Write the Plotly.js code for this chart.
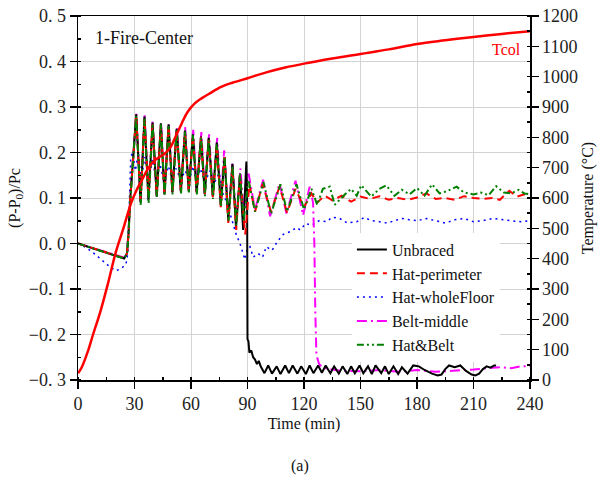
<!DOCTYPE html>
<html>
<head>
<meta charset="utf-8">
<script src="https://cdn.plot.ly/plotly-3.0.1.min.js"></script>
<style>html,body{margin:0;padding:0;background:#fff;}#chart{width:603px;height:480px;}</style>
</head>
<body>
<div id="chart"></div>
<script>
// ---- data (time in min, value) ----
const seriesNames = ["Unbraced", "Hat-perimeter", "Hat-wholeFloor", "Belt-middle", "Hat&Belt"];

const unbraced = [[0,0],[24.5,-0.033],[26,-0.022],[26.8,0.02],[27.7,0.095],[29.1,0.17],[30.9,0.284],[33.2,0.09],[35.3,0.279],[37.4,0.095],[39.6,0.266],[41.8,0.103],[44.0,0.264],[45.9,0.108],[48.1,0.262],[50.1,0.112],[52.4,0.252],[54.6,0.114],[56.8,0.248],[58.8,0.115],[61.0,0.24],[63.0,0.112],[65.3,0.235],[67.3,0.108],[69.4,0.232],[71.6,0.104],[73.7,0.222],[75.8,0.085],[77.8,0.19],[79.8,0.05],[82.0,0.175],[83.9,0.035],[86.0,0.15],[87.7,0.03],[89.4,0.18],[89.8,0.1],[90.0,-0.21],[90.5,-0.215],[91,-0.24],[92,-0.235],[93,-0.25],[94,-0.255],[95,-0.265],[96,-0.258],[97,-0.27],[99,-0.285],[101,-0.268],[103,-0.286],[105.5,-0.27],[107.5,-0.287],[110,-0.268],[112,-0.285],[114,-0.268],[116.5,-0.286],[118.5,-0.27],[121,-0.287],[123,-0.268],[125,-0.285],[127.5,-0.268],[129.5,-0.284],[131.5,-0.268],[134,-0.285],[136,-0.27],[138.5,-0.286],[140.5,-0.27],[143,-0.287],[145,-0.27],[147,-0.285],[149.5,-0.268],[151.5,-0.285],[154,-0.27],[156,-0.287],[158,-0.268],[161,-0.285],[163,-0.27],[165,-0.287],[167.5,-0.27],[170,-0.287],[172,-0.272],[175,-0.286],[178,-0.268],[181,-0.27],[184,-0.278],[188,-0.286],[191,-0.29],[193,-0.288],[195,-0.276],[197,-0.268],[200,-0.272],[203,-0.268],[206,-0.28],[209,-0.288],[211,-0.29],[213,-0.286],[215,-0.276],[217,-0.27],[219,-0.273],[221,-0.268],[222,-0.268]];

const hatPerimeter = [[0,0],[24.5,-0.032],[26,-0.022],[26.8,0.02],[27.7,0.095],[29.1,0.17],[30.9,0.282],[33.2,0.095],[35.3,0.276],[37.4,0.1],[39.6,0.262],[41.8,0.106],[44.0,0.26],[45.9,0.11],[48.1,0.258],[50.1,0.113],[52.4,0.25],[54.6,0.115],[56.8,0.245],[58.8,0.116],[61.0,0.238],[63.0,0.112],[65.3,0.234],[67.3,0.108],[69.4,0.228],[71.6,0.1],[73.7,0.215],[75.8,0.08],[77.8,0.19],[79.8,0.045],[82.0,0.165],[84.0,0.03],[86.0,0.15],[88.8,0.02],[91.0,0.13],[94.0,0.07],[98.0,0.13],[102.5,0.07],[107.0,0.125],[111.0,0.068],[115.5,0.12],[120.0,0.08],[124.0,0.11],[127.0,0.09],[131.0,0.105],[135.0,0.095],[140.0,0.105],[145.0,0.092],[150.0,0.103],[155.0,0.098],[160.0,0.104],[165.0,0.096],[170.0,0.1],[175.0,0.096],[180.0,0.101],[185.0,0.11],[190.0,0.098],[195.0,0.1],[200.0,0.096],[205.0,0.104],[210.0,0.1],[215.0,0.098],[220.0,0.1],[224.0,0.096],[229.0,0.116],[233.0,0.103],[237.0,0.108],[240.0,0.105]];

const hatWholeFloor = [[0,0],[4,-0.008],[8,-0.02],[12,-0.035],[16,-0.048],[20,-0.06],[23,-0.055],[25.5,-0.045],[26.5,-0.02],[27,0.05],[27.5,0.12],[28,0.19],[29,0.2],[30.5,0.16],[32,0.2],[33.5,0.14],[35.5,0.19],[37.5,0.14],[39.5,0.185],[41.5,0.14],[43.5,0.175],[45.5,0.14],[48,0.17],[50,0.14],[52,0.165],[54.5,0.14],[57,0.16],[59,0.135],[61,0.17],[63,0.135],[65,0.165],[67.5,0.135],[70,0.16],[72,0.13],[75,0.155],[77,0.11],[79,0.09],[82,0.045],[84,0.02],[86,0.0],[88.6,-0.035],[90,-0.01],[91.3,-0.007],[93,-0.03],[95.7,-0.022],[98,-0.03],[100,-0.007],[103,-0.015],[106,0.005],[109,0.02],[112.5,0.026],[116,0.035],[118,0.03],[121,0.044],[124,0.04],[128,0.05],[132,0.048],[135,0.058],[139,0.055],[143,0.045],[148,0.048],[152,0.057],[156,0.05],[160,0.048],[164,0.045],[168,0.05],[172,0.055],[176,0.052],[180,0.05],[185,0.055],[190,0.05],[195,0.045],[200,0.052],[205,0.055],[210,0.048],[215,0.05],[220,0.055],[225,0.052],[230,0.05],[235,0.048],[240,0.05]];

const beltMiddle = [[0,0],[24.5,-0.031],[26,-0.02],[26.8,0.025],[27.7,0.1],[29.1,0.175],[31.0,0.286],[33.2,0.092],[35.4,0.282],[37.4,0.098],[39.6,0.268],[41.8,0.105],[44.1,0.266],[45.9,0.11],[48.2,0.264],[50.1,0.113],[52.5,0.256],[54.6,0.116],[56.9,0.256],[58.8,0.117],[61.2,0.25],[63.0,0.113],[65.5,0.245],[67.3,0.11],[69.6,0.24],[71.6,0.105],[73.9,0.232],[75.8,0.088],[77.6,0.205],[79.8,0.06],[82.0,0.175],[84.0,0.05],[86.2,0.165],[88.0,0.07],[90.4,0.158],[94.0,0.074],[98.3,0.14],[102.0,0.06],[107.0,0.132],[110.7,0.066],[115.5,0.138],[119.5,0.062],[123.0,0.125],[124.8,0.09],[125.5,0.0],[126.0,-0.15],[126.6,-0.245],[128.0,-0.265],[130.0,-0.273],[135,-0.277],[140,-0.28],[150,-0.281],[160,-0.278],[170,-0.282],[180,-0.278],[190,-0.282],[200,-0.28],[210,-0.277],[220,-0.273],[225,-0.272],[230,-0.274],[235,-0.27],[240,-0.27]];

const hatAndBelt = [[0,0],[24.5,-0.033],[26,-0.023],[26.8,0.018],[27.7,0.09],[29.1,0.165],[30.9,0.28],[33.3,0.085],[35.3,0.277],[37.5,0.088],[39.6,0.263],[41.9,0.1],[44.0,0.262],[46.0,0.105],[48.1,0.258],[50.2,0.108],[52.4,0.25],[54.7,0.11],[56.8,0.246],[58.9,0.112],[61.0,0.238],[63.1,0.108],[65.3,0.232],[67.4,0.104],[69.4,0.228],[71.7,0.098],[73.7,0.218],[75.9,0.08],[77.8,0.19],[79.9,0.05],[82.0,0.17],[84.0,0.04],[86.0,0.155],[88.0,0.05],[90.5,0.14],[94.0,0.07],[98.5,0.135],[102.5,0.065],[107.5,0.13],[111.0,0.07],[116.0,0.13],[120.0,0.075],[124.0,0.12],[127.0,0.085],[130.0,0.12],[133.7,0.125],[136.3,0.085],[141,0.105],[145,0.12],[148,0.105],[150.4,0.128],[155.7,0.103],[160,0.12],[163.7,0.128],[168,0.105],[172,0.118],[176,0.108],[180,0.122],[184,0.105],[188,0.13],[192,0.11],[196,0.115],[201,0.125],[205,0.112],[210,0.108],[214,0.112],[218,0.106],[222,0.126],[226,0.112],[230,0.11],[234,0.118],[237,0.11],[240,0.108]];

// column temperature (°C) on the right axis
const tcol = [[0,22],[2,42],[5,90],[8,150],[12,228],[16,320],[20,420],[24,498],[28,580],[31,625],[34,660],[37,695],[40,720],[43,734],[46,746],[49,766],[52,805],[55,845],[58,882],[62,912],[66,930],[70,945],[76,966],[82,980],[90,995],[100,1014],[110,1030],[120,1043],[135,1060],[150,1075],[165,1090],[180,1108],[195,1120],[210,1131],[225,1141],[240,1150]];

const xTickVals = [0, 30, 60, 90, 120, 150, 180, 210, 240];
const yTickVals = [-0.3, -0.2, -0.1, 0, 0.1, 0.2, 0.3, 0.4, 0.5];
const yTickText = ["\u22120. 3", "\u22120. 2", "\u22120. 1", "0. 0", "0. 1", "0. 2", "0. 3", "0. 4", "0. 5"];
const y2TickVals = [0, 100, 200, 300, 400, 500, 600, 700, 800, 900, 1000, 1100, 1200];

// ---- chart ----
const FONT = "Liberation Serif, Times New Roman, serif";
const xs = a => a.map(p => p[0]);
const ys = a => a.map(p => p[1]);

const styles = [
  {color: "#000000", width: 2, dash: "solid"},
  {color: "#ff0000", width: 2, dash: "8px,5px"},
  {color: "#0000ff", width: 1.5, dash: "2px,4px"},
  {color: "#ff00ff", width: 2, dash: "10px,4px,2px,4px"},
  {color: "#008000", width: 2, dash: "7px,3px,2px,3px,2px,3px"}
];
const seriesData = [unbraced, hatPerimeter, hatWholeFloor, beltMiddle, hatAndBelt];
const drawOrder = [2, 3, 0, 1, 4];

const traces = drawOrder.map(i => ({
  x: xs(seriesData[i]), y: ys(seriesData[i]), type: "scatter", mode: "lines",
  name: seriesNames[i], legendrank: i + 1, line: styles[i], xaxis: "x", yaxis: "y"
}));
traces.push({
  x: xs(tcol), y: ys(tcol), type: "scatter", mode: "lines", name: "Tcol",
  showlegend: false, line: {color: "#ff0000", width: 2.5, shape: "spline"},
  xaxis: "x", yaxis: "y2"
});

const layout = {
  width: 603, height: 480,
  margin: {l: 78, r: 73, t: 16, b: 100},
  paper_bgcolor: "#ffffff", plot_bgcolor: "#ffffff",
  font: {family: FONT, size: 18, color: "#222"},
  showlegend: true,
  legend: {
    x: 0.606, y: 0.405, xanchor: "left", yanchor: "top",
    bgcolor: "#ffffff", borderwidth: 0, traceorder: "normal",
    font: {family: FONT, size: 16, color: "#111"},
    tracegroupgap: 0
  },
  xaxis: {
    range: [0, 240], tickvals: xTickVals, showgrid: true, gridcolor: "#d3d3d3", gridwidth: 1,
    zeroline: false, showline: true, linecolor: "#000", linewidth: 1.5, mirror: true,
    ticks: "outside", ticklen: 7, tickcolor: "#000", tickwidth: 1.5,
    minor: {dtick: 15, ticks: "inside", ticklen: 3, tickcolor: "#000", showgrid: false},
    tickfont: {family: FONT, size: 18, color: "#222"},
    title: {text: "Time (min)", font: {family: FONT, size: 16, color: "#111"}, standoff: 4}
  },
  yaxis: {
    range: [-0.3, 0.5], tickvals: yTickVals, ticktext: yTickText, showgrid: true, gridcolor: "#d3d3d3", gridwidth: 1,
    zeroline: false, showline: true, linecolor: "#000", linewidth: 1.5,
    ticks: "outside", ticklen: 7, tickcolor: "#000", tickwidth: 1.5,
    minor: {dtick: 0.05, ticks: "inside", ticklen: 3, tickcolor: "#000", showgrid: false},
    tickfont: {family: FONT, size: 18, color: "#222"},
    title: {text: "(P-P<sub>0</sub>)/Pc", font: {family: FONT, size: 16, color: "#111"}, standoff: 4}
  },
  yaxis2: {
    range: [0, 1200], tickvals: y2TickVals, overlaying: "y", side: "right",
    showgrid: false, zeroline: false, showline: true, linecolor: "#000", linewidth: 1.5,
    ticks: "outside", ticklen: 7, tickcolor: "#000", tickwidth: 1.5,
    minor: {dtick: 50, ticks: "inside", ticklen: 3, tickcolor: "#000", showgrid: false},
    tickfont: {family: FONT, size: 18, color: "#222"},
    title: {text: "Temperature (°C)", font: {family: FONT, size: 16, color: "#111"}, standoff: 4}
  },
  annotations: [
    {text: "1-Fire-Center", xref: "paper", yref: "paper", x: 0.033, y: 0.94, xanchor: "left", yanchor: "middle",
     showarrow: false, font: {family: FONT, size: 18, color: "#111"}},
    {text: "Tcol", xref: "paper", yref: "paper", x: 0.985, y: 0.907, xanchor: "right", yanchor: "middle",
     showarrow: false, font: {family: FONT, size: 16, color: "#ff0000"}},
    {text: "(a)", xref: "paper", yref: "paper", x: 0.491, y: -0.236, xanchor: "center", yanchor: "middle",
     showarrow: false, font: {family: FONT, size: 16, color: "#111"}}
  ]
};

Plotly.newPlot("chart", traces, layout, {displayModeBar: false, staticPlot: true});
</script>
</body>
</html>
